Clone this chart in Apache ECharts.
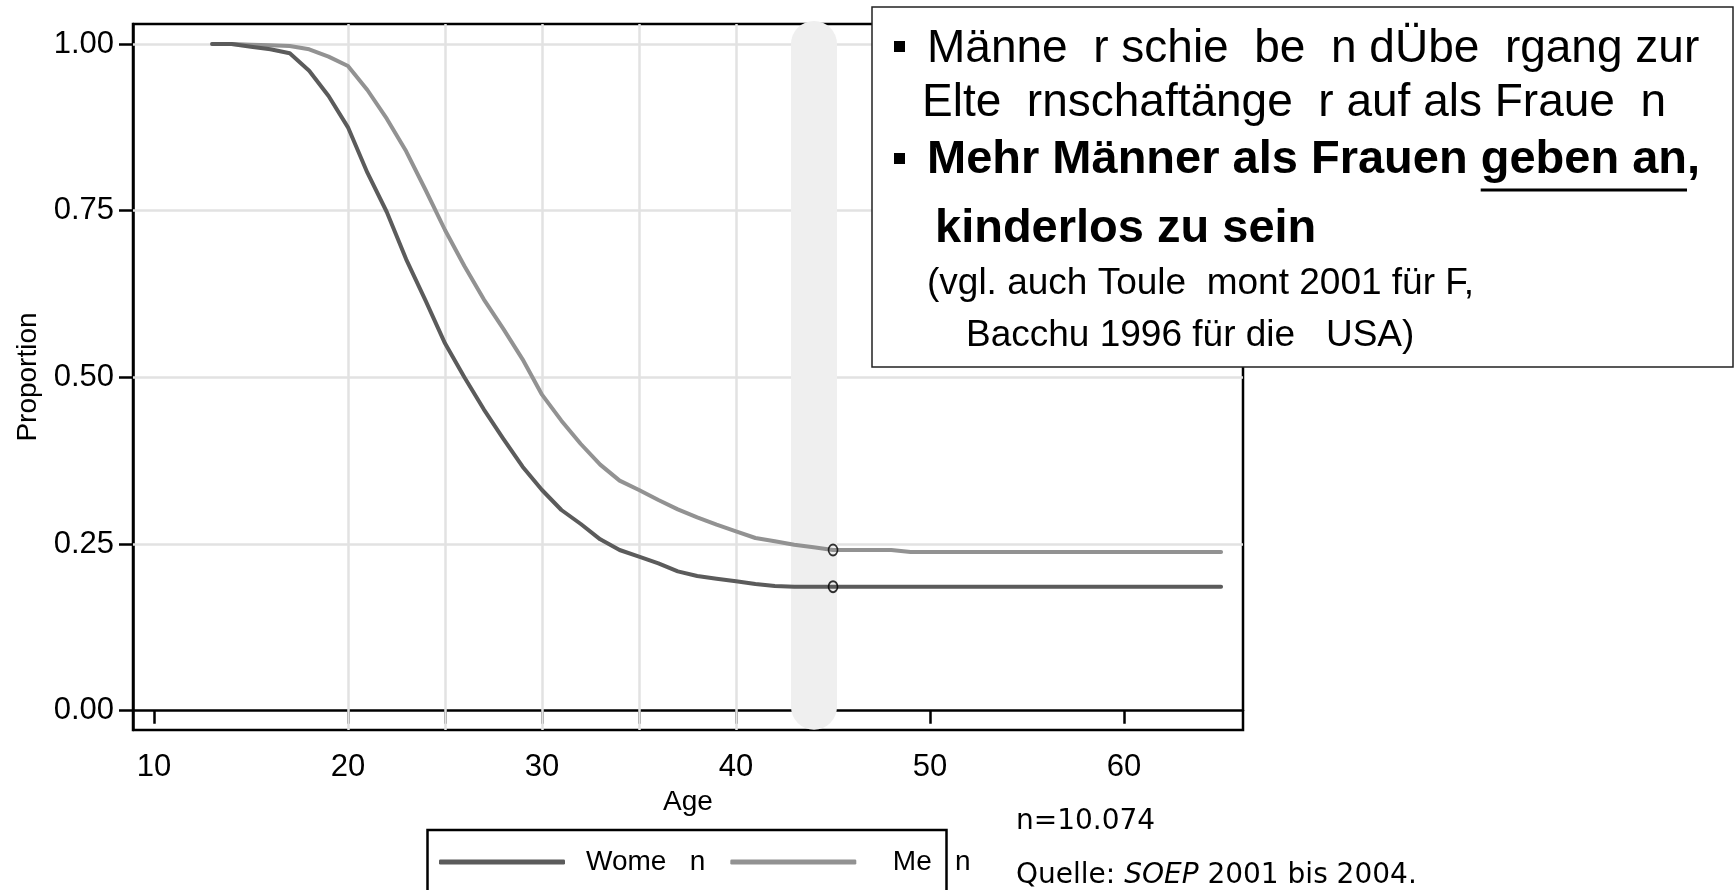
<!DOCTYPE html>
<html>
<head>
<meta charset="utf-8">
<script src="https://cdn.jsdelivr.net/npm/echarts@6/dist/echarts.min.js"></script>
<style>
html, body { margin: 0; padding: 0; background: #fff; }
#main { width: 1735px; height: 890px; }
</style>
</head>
<body>
<div id="main"></div>
<script>
// Anteil noch kinderloser Personen nach Alter (SOEP 2001-2004)
var ages  = [13, 14, 15, 16, 17, 18, 19, 20, 21, 22, 23, 24, 25, 26, 27, 28, 29, 30, 31, 32, 33, 34, 35, 36, 37, 38, 39, 40, 41, 42, 43, 44, 45, 46, 47, 48, 49, 65];
var women = [1.000, 1.000, 0.996, 0.992, 0.986, 0.960, 0.922, 0.875, 0.807, 0.748, 0.677, 0.615, 0.551, 0.500, 0.452, 0.408, 0.366, 0.331, 0.301, 0.280, 0.257, 0.241, 0.231, 0.221, 0.209, 0.202, 0.198, 0.194, 0.190, 0.187, 0.186, 0.186, 0.186, 0.186, 0.186, 0.186, 0.186, 0.186];
var men   = [1.000, 1.000, 0.999, 0.998, 0.997, 0.992, 0.981, 0.967, 0.931, 0.888, 0.839, 0.781, 0.721, 0.667, 0.617, 0.573, 0.527, 0.474, 0.435, 0.400, 0.369, 0.345, 0.331, 0.316, 0.302, 0.290, 0.279, 0.269, 0.259, 0.254, 0.249, 0.245, 0.241, 0.241, 0.241, 0.241, 0.238, 0.238];

var xTicks = [10, 20, 25, 30, 35, 40, 50, 60];
var xLabels = [10, 20, 30, 40, 50, 60];
var yTicks = [0, 0.25, 0.5, 0.75, 1.0];
var gridAges = [20, 25, 30, 35, 40];
var gridProps = [0.25, 0.5, 0.75, 1.0];
var bandAge = 44;   // grauer Balken
var markAge = 45;   // Markierung "o"

var legendNames = ['Women', 'Men'];
var legendShown = { Women: 'Wome   n', Men: '  Me   n' };

var noteN = 'n=10.074';
var noteSource = '{n|Quelle: }{i|SOEP}{n| 2001 bis 2004.}';

var boxLine1 = 'Männe  r schie  be  n dÜbe  rgang zur';
var boxLine2 = 'Elte  rnschaftänge  r auf als Fraue  n';
var boxLine3a = 'Mehr Männer als Frauen ';
var boxLine3b = 'geben an';
var boxLine3c = ',';
var boxLine4 = 'kinderlos zu sein';
var boxLine5 = '(vgl. auch Toule  mont 2001 für F,';
var boxLine6 = 'Bacchu 1996 für die   USA)';

var FONT = "'Liberation Sans', Arial, sans-serif";

function pairs(vals) {
    var res = [];
    for (var i = 0; i < ages.length; i++) {
        res.push([ages[i], vals[i]]);
    }
    return res;
}

function textWidth(str, font) {
    var c = document.createElement('canvas').getContext('2d');
    c.font = font;
    return c.measureText(str).width;
}

var mi = ages.indexOf(markAge);

// Unterstrich unter "geben an"
var boldFont = 'bold 47px ' + FONT;
var ulStart = 927 + textWidth(boxLine3a, boldFont);
var ulEnd = ulStart + textWidth(boxLine3b, boldFont);

var myChart = echarts.init(document.getElementById('main'), null, { renderer: 'canvas' });

var option = {
    backgroundColor: '#fff',
    animation: false,
    textStyle: { fontFamily: FONT, color: '#000' },
    grid: {
        left: 133,
        top: 24,
        width: 1110,
        height: 706,
        show: true,
        borderColor: '#000',
        borderWidth: 2.5,
        backgroundColor: 'transparent'
    },
    legend: {
        data: legendNames,
        left: 439,
        top: 848,
        padding: 0,
        icon: 'roundRect',
        itemWidth: 126,
        itemHeight: 5,
        itemGap: 25,
        formatter: function (name) { return legendShown[name]; },
        textStyle: { fontSize: 28, color: '#000', fontFamily: FONT, padding: [0, 0, 0, 16] }
    },
    xAxis: {
        type: 'value',
        min: 8.92,
        max: 66.13,
        name: 'Age',
        nameLocation: 'middle',
        nameGap: 50,
        nameTextStyle: { fontSize: 28, color: '#000' },
        axisLine: { show: true, lineStyle: { color: '#000', width: 2.5 } },
        axisTick: { show: true, customValues: xTicks, length: 13, lineStyle: { color: '#000', width: 2.5 } },
        axisLabel: {
            customValues: xLabels,
            fontSize: 31,
            color: '#000',
            margin: 22
        },
        splitLine: { show: false }
    },
    yAxis: {
        type: 'value',
        min: -0.029,
        max: 1.03,
        name: 'Proportion',
        nameLocation: 'middle',
        nameGap: 90,
        nameRotate: 90,
        nameTextStyle: { fontSize: 28, color: '#000' },
        axisLine: { show: true, lineStyle: { color: '#000', width: 2.5 } },
        axisTick: { show: true, customValues: yTicks, length: 14, lineStyle: { color: '#000', width: 2.5 } },
        axisLabel: {
            customValues: yTicks,
            fontSize: 31,
            color: '#000',
            margin: 19,
            formatter: function (v) { return v.toFixed(2); }
        },
        splitLine: { show: false }
    },
    series: [
        {
            // Gitterlinien
            name: 'grid',
            type: 'line',
            data: [],
            z: 1,
            silent: true,
            markLine: {
                z: 1,
                silent: true,
                symbol: ['none', 'none'],
                label: { show: false },
                lineStyle: { color: '#e2e2e2', width: 2.5, type: 'solid' },
                data: (function () {
                    var res = [];
                    for (var i = 0; i < gridAges.length; i++) res.push({ xAxis: gridAges[i] });
                    for (var j = 0; j < gridProps.length; j++) res.push({ yAxis: gridProps[j] });
                    return res;
                })()
            }
        },
        {
            // grauer Balken bei 44
            name: 'band',
            type: 'line',
            data: [],
            z: 2,
            silent: true,
            markLine: {
                z: 2,
                silent: true,
                symbol: ['none', 'none'],
                label: { show: false },
                lineStyle: { color: '#efefef', width: 46, type: 'solid', cap: 'round', opacity: 1 },
                data: [[{ coord: [bandAge, 1.0] }, { coord: [bandAge, 0.006] }]]
            }
        },
        {
            name: 'Men',
            type: 'line',
            z: 3,
            showSymbol: false,
            symbol: 'none',
            color: '#929292',
            lineStyle: { width: 4, color: '#929292', cap: 'round', join: 'round' },
            data: pairs(men)
        },
        {
            name: 'Women',
            type: 'line',
            z: 4,
            showSymbol: false,
            symbol: 'none',
            color: '#5b5b5b',
            lineStyle: { width: 4, color: '#5b5b5b', cap: 'round', join: 'round' },
            data: pairs(women)
        },
        {
            name: 'marks',
            type: 'scatter',
            z: 5,
            silent: true,
            symbol: 'circle',
            symbolSize: [9, 11],
            itemStyle: { color: 'rgba(255,255,255,0)', borderColor: '#000', borderWidth: 1.8 },
            data: [[markAge, men[mi]], [markAge, women[mi]]]
        }
    ],
    graphic: [
        // Legendenrahmen
        { type: 'rect', z: 50, shape: { x: 427.5, y: 830, width: 519, height: 90 }, style: { fill: 'none', stroke: '#000', lineWidth: 2.5 } },
        // Hinweise unten rechts
        { type: 'text', z: 50, x: 1016, y: 822, style: { text: noteN, font: "28px 'DejaVu Sans', sans-serif", fill: '#000', verticalAlign: 'middle' } },
        {
            type: 'text', z: 50, x: 1016, y: 876,
            style: {
                text: noteSource, fill: '#000', verticalAlign: 'middle',
                rich: {
                    n: { fontFamily: "'DejaVu Sans', sans-serif", fontSize: 28, color: '#000' },
                    i: { fontFamily: "'DejaVu Sans', sans-serif", fontSize: 28, fontStyle: 'italic', color: '#000' }
                }
            }
        },
        // Textkasten
        { type: 'rect', z: 100, shape: { x: 872, y: 7, width: 861, height: 360 }, style: { fill: '#fff', stroke: '#222', lineWidth: 1.5 } },
        { type: 'rect', z: 101, shape: { x: 894, y: 41, width: 11, height: 11 }, style: { fill: '#000' } },
        { type: 'text', z: 101, x: 927, y: 49, style: { text: boxLine1, font: '46px ' + FONT, fill: '#000', verticalAlign: 'middle' } },
        { type: 'text', z: 101, x: 922, y: 103, style: { text: boxLine2, font: '46px ' + FONT, fill: '#000', verticalAlign: 'middle' } },
        { type: 'rect', z: 101, shape: { x: 894, y: 153, width: 11, height: 11 }, style: { fill: '#000' } },
        { type: 'text', z: 101, x: 927, y: 160, style: { text: boxLine3a + boxLine3b + boxLine3c, font: boldFont, fill: '#000', verticalAlign: 'middle' } },
        { type: 'line', z: 101, shape: { x1: ulStart, y1: 190, x2: ulEnd, y2: 190 }, style: { stroke: '#000', lineWidth: 3 } },
        { type: 'text', z: 101, x: 935, y: 229, style: { text: boxLine4, font: boldFont, fill: '#000', verticalAlign: 'middle' } },
        { type: 'text', z: 101, x: 927, y: 284, style: { text: boxLine5, font: '37px ' + FONT, fill: '#000', verticalAlign: 'middle' } },
        { type: 'text', z: 101, x: 966, y: 336, style: { text: boxLine6, font: '37px ' + FONT, fill: '#000', verticalAlign: 'middle' } }
    ]
};

if (option && typeof option === "object") {
    myChart.setOption(option, true);
}
</script>
</body>
</html>
